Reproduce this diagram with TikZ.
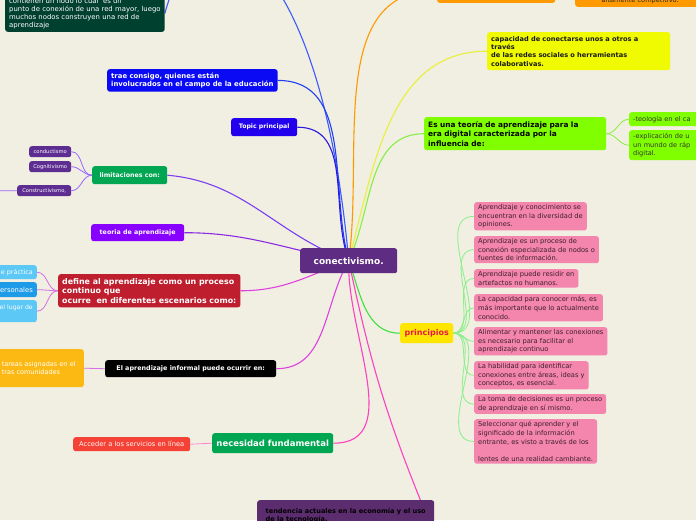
\documentclass[tikz,border=0pt]{standalone}
\usepackage{fontspec}
\setmainfont{DejaVu Sans}
\newcommand\fsz[2]{\fontsize{#1}{#2}\selectfont}

\definecolor{bgcream}{RGB}{241,238,226}
\definecolor{cenpurple}{RGB}{94,44,131}
\definecolor{topgreen}{RGB}{0,64,46}
\definecolor{orangefill}{RGB}{255,153,0}
\definecolor{yellowfill}{RGB}{240,250,0}
\definecolor{limefill}{RGB}{128,255,0}
\definecolor{traeblue}{RGB}{10,10,245}
\definecolor{topicblue}{RGB}{34,0,238}
\definecolor{mmgreen}{RGB}{0,166,81}
\definecolor{smallpurple}{RGB}{94,45,145}
\definecolor{teoriapurple}{RGB}{136,0,255}
\definecolor{definered}{RGB}{190,30,45}
\definecolor{skyblue}{RGB}{91,200,245}
\definecolor{midblue}{RGB}{30,155,232}
\definecolor{goldfill}{RGB}{253,185,19}
\definecolor{accred}{RGB}{244,67,54}
\definecolor{tendpurple}{RGB}{92,45,110}
\definecolor{princyellow}{RGB}{255,230,0}
\definecolor{princred}{RGB}{229,25,74}
\definecolor{pinkfill}{RGB}{244,133,173}
\definecolor{pinktext}{RGB}{61,31,42}
% colores de conectores
\definecolor{cblue}{RGB}{60,90,255}
\definecolor{ctrae}{RGB}{32,64,240}
\definecolor{ctopic}{RGB}{42,26,224}
\definecolor{corange}{RGB}{255,153,0}
\definecolor{cyellow}{RGB}{232,240,60}
\definecolor{clime}{RGB}{136,238,68}
\definecolor{cviolet}{RGB}{123,63,242}
\definecolor{cviolet2}{RGB}{153,102,255}
\definecolor{cpurple}{RGB}{138,43,226}
\definecolor{cmagenta}{RGB}{224,64,224}
\definecolor{cmagenta2}{RGB}{214,110,228}
\definecolor{cpink}{RGB}{255,64,192}
\definecolor{cpink2}{RGB}{255,136,204}
\definecolor{cgreen}{RGB}{64,224,64}
\definecolor{cgreen2}{RGB}{136,240,136}

\pgfdeclarelayer{bg}
\pgfdeclarelayer{lines}
\pgfsetlayers{bg,lines,main}

\tikzset{
  box/.style={rounded corners=2.5pt, anchor=north west, align=left,
    inner xsep=4pt, inner ysep=3pt, text=white},
  rbox/.style={box, anchor=north east},
  pinkbox/.style={box, fill=pinkfill, text=pinktext, font=\fsz{6.7}{8.6}, inner ysep=2.3pt},
  link/.style={line width=1.1pt},
  sublink/.style={line width=0.8pt}
}

\begin{document}
\begin{tikzpicture}[x=1pt,y=-1pt]
  \useasboundingbox (0,0) rectangle (696,520);
  \begin{pgfonlayer}{bg}
    \fill[bgcream] (0,0) rectangle (696,520);
  \end{pgfonlayer}

  % nodo central
  \node[box, fill=cenpurple, font=\bfseries\fsz{9}{11}, align=center,
        minimum width=97pt, minimum height=25pt] (cen) at (300,248) {conectivismo.};

  % ramas de arriba
  \node[box, anchor=south west, fill=topgreen, font=\fsz{6.9}{8}] (red) at (5,32)
    {contienen un nodo lo cual \ es un\\punto de conexión de una red mayor, luego\\muchos nodos construyen una red de\\aprendizaje};
  \node[box, anchor=south west, fill=orangefill, minimum width=118pt, minimum height=25pt] (naranja) at (437,3) {};
  \node[box, anchor=south west, fill=orangefill, text=black!85, font=\fsz{6.6}{8},
        minimum width=130pt] (competitivo) at (575,7) {\mbox{}\\altamente competitivo.};
  \node[box, fill=yellowfill, text=black!90, font=\bfseries\fsz{6.6}{8.3}, text width=175pt,
        inner ysep=4pt] (redes) at (487,32)
    {capacidad de conectarse unos a otros a\\través\\de las redes sociales o herramientas\\colaborativas.};
  \node[box, fill=limefill, text=black, font=\bfseries\fsz{7.4}{9.5}, text width=174pt,
        inner ysep=4pt] (teoria) at (424,117)
    {Es una teoría de aprendizaje para la\\era digital caracterizada por la\\influencia de:};
  \node[box, fill=limefill, text=black!80, font=\fsz{6.6}{8}, text width=80pt,
        minimum height=14pt] (teologia) at (629,112) {-teología en el ca};
  \node[box, fill=limefill, text=black!80, font=\fsz{6.6}{8.3}, text width=80pt,
        minimum height=30pt] (explicacion) at (629,130) {-explicación de u\\un mundo de ráp\\digital.};

  % ramas de la izquierda
  \node[box, fill=traeblue, font=\bfseries\fsz{6.9}{8.5}, inner ysep=3.5pt] (trae) at (107,69)
    {trae consigo, quienes están\\involucrados en el campo de la educación};
  \node[box, fill=topicblue, font=\bfseries\fsz{6.2}{8}, minimum width=66pt,
        minimum height=18pt, align=center] (topic) at (231,118) {Topic principal};
  \node[box, fill=mmgreen, font=\bfseries\fsz{6.3}{8}, minimum width=75pt,
        minimum height=18pt, align=center] (limites) at (92,166) {limitaciones con:};
  \node[box, fill=smallpurple, font=\fsz{5.2}{6}, minimum width=42pt, minimum height=11pt,
        inner ysep=1pt, align=center] (conductismo) at (29,146) {conductismo};
  \node[box, fill=smallpurple, font=\fsz{5.2}{6}, minimum width=42pt, minimum height=11pt,
        inner ysep=1pt, align=center] (cognitivismo) at (29,161) {Cognitivismo};
  \node[box, fill=smallpurple, font=\fsz{5.2}{6}, minimum width=54pt, minimum height=11pt,
        inner ysep=1pt, align=center] (constructivismo) at (17,185) {Constructivismo,};
  \coordinate (masalla) at (-20,191);
  \node[box, fill=teoriapurple, font=\bfseries\fsz{6.3}{8}, minimum width=93pt,
        minimum height=17pt, align=center] (aprendizaje) at (91,224) {teoria de aprendizaje};
  \node[box, fill=definered, font=\bfseries\fsz{7.9}{9.5}, inner ysep=4pt] (define) at (58,274)
    {define al aprendizaje como un proceso\\continuo que\\ocurre \ en diferentes escenarios como:};
  \node[rbox, fill=skyblue, font=\fsz{6.4}{8}, minimum height=14pt] (practica) at (37,265) {e práctica};
  \node[rbox, fill=midblue, font=\fsz{6.8}{8}, minimum height=15pt] (personales) at (37,282) {ersonales};
  \node[rbox, fill=skyblue, font=\fsz{6.2}{8}, minimum height=22pt] (lugar) at (37,300) {el lugar de\\\mbox{}};
  \node[box, fill=black, font=\bfseries\fsz{6.4}{8}, minimum width=171pt,
        minimum height=17pt, align=center] (informal) at (105,360) {El aprendizaje informal puede ocurrir en:};
  \node[rbox, fill=goldfill, font=\fsz{6.5}{8}, minimum height=38pt, text width=78pt]
    (tareas) at (84,349) {tareas asignadas en el\\tras comunidades};

  % ramas de abajo
  \node[box, fill=mmgreen, font=\bfseries\fsz{8.5}{10}, minimum width=121pt,
        minimum height=20pt, align=center] (necesidad) at (212,433) {necesidad fundamental};
  \node[box, fill=accred, text=white!90!pink, font=\fsz{6.7}{8}, minimum width=117pt,
        minimum height=14pt, align=center] (acceder) at (73,437) {Acceder a los servicios en línea};
  \node[box, fill=tendpurple, text=black, font=\bfseries\fsz{6.6}{8}, minimum width=177pt,
        minimum height=30pt, inner ysep=4pt] (tendencia) at (257,500)
    {tendencia actuales en la economía y el uso\\de la tecnología.};

  % principios
  \node[box, fill=princyellow, text=princred, font=\bfseries\fsz{8}{9}, minimum width=53pt,
        minimum height=20pt, align=center] (principios) at (400,323) {principios};
  \node[pinkbox] (p1) at (474,202) {Aprendizaje y conocimiento se\\encuentran en la diversidad de\\opiniones.};
  \node[pinkbox] (p2) at (474,236) {Aprendizaje es un proceso de\\conexión especializada de nodos o\\fuentes de información.};
  \node[pinkbox] (p3) at (474,269) {Aprendizaje puede residir en\\artefactos no humanos.};
  \node[pinkbox] (p4) at (474,294) {La capacidad para conocer más, es\\más importante que lo actualmente\\conocido.};
  \node[pinkbox] (p5) at (474,327) {Alimentar y mantener las conexiones\\es necesario para facilitar el\\aprendizaje continuo};
  \node[pinkbox] (p6) at (474,361) {La habilidad para identificar\\conexiones entre áreas, ideas y\\conceptos, es esencial.};
  \node[pinkbox] (p7) at (474,394) {La toma de decisiones es un proceso\\de aprendizaje en sí mismo.};
  \node[pinkbox] (p8) at (474,419) {Seleccionar qué aprender y el\\significado de la información\\entrante, es visto a través de los\\\mbox{}\\lentes de una realidad cambiante.};

  % conectores
  \begin{pgfonlayer}{lines}
    \draw[link, cblue] (cen.center) .. controls (320,-60) and (200,-120) .. (red.east);
    \draw[link, ctrae] (trae.east) to[out=0, in=105] (cen.center);
    \draw[link, ctopic] (topic.east) to[out=0, in=110] (cen.center);
    \draw[link, corange] (cen.center) to[out=82, in=180] (naranja.west);
    \draw[sublink, corange] (naranja.east) to[out=0, in=180] (competitivo.west);
    \draw[link, cyellow] (cen.center) to[out=75, in=180] (redes.west);
    \draw[link, clime] (cen.center) to[out=65, in=180] (teoria.west);
    \draw[sublink, clime] (teoria.east) to[out=0, in=180] (teologia.west);
    \draw[sublink, clime] (teoria.east) to[out=0, in=180] (explicacion.west);

    \draw[link, cviolet] (limites.east) to[out=-5, in=160] (cen.center);
    \draw[sublink, cviolet2] (limites.west) to[out=180, in=0] (conductismo.east);
    \draw[sublink, cviolet2] (limites.west) to[out=180, in=0] (cognitivismo.east);
    \draw[sublink, cviolet2] (limites.west) to[out=180, in=0] (constructivismo.east);
    \draw[sublink, cviolet2] (constructivismo.west) -- (masalla);
    \draw[link, cpurple] (aprendizaje.east) to[out=0, in=170] (cen.center);
    \draw[link, cmagenta] (define.east) to[out=0, in=200] (cen.center);
    \draw[sublink, cmagenta2] (define.west) to[out=180, in=0] (practica.east);
    \draw[sublink, cmagenta2] (define.west) to[out=180, in=0] (personales.east);
    \draw[sublink, cmagenta2] (define.west) to[out=180, in=0] (lugar.east);
    \draw[link, cmagenta] (informal.east) to[out=0, in=240] (cen.center);
    \draw[sublink, cmagenta2] (informal.west) -- (tareas.east);

    \draw[link, cpink] (necesidad.east) to[out=0, in=268] (cen.center);
    \draw[sublink, cpink2] (necesidad.west) -- (acceder.east);
    \draw[link, cpink] (cen.center) to[out=-78, in=112] ([xshift=-14pt]tendencia.north east);
    \draw[link, cgreen] (cen.center) to[out=-70, in=180] (principios.west);
    \foreach \p in {p1,p2,p3,p4,p5,p6,p7,p8}
      \draw[sublink, cgreen2] (principios.east) to[out=0, in=180] (\p.west);
  \end{pgfonlayer}
\end{tikzpicture}
\end{document}
